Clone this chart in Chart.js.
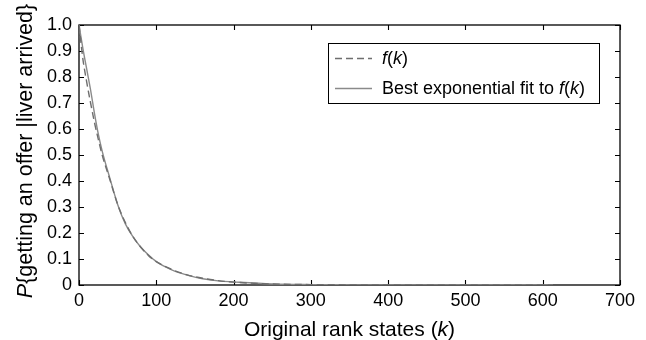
<!DOCTYPE html>
<html>
<head>
<meta charset="utf-8">
<script src="https://cdn.jsdelivr.net/npm/chart.js@4.4.1/dist/chart.umd.min.js"></script>
<style>
    html, body { margin: 0; padding: 0; background: #fff; }
    #wrap { width: 646px; height: 340px; position: relative; }
</style>
</head>
<body>
<div id="wrap"><canvas id="chart" width="646" height="340"></canvas></div>
<script>
/* data */
const kPoints = [0, 5, 10, 15, 20, 25, 30, 40, 50, 60, 70, 80, 90, 100, 120, 140, 160, 180, 200, 250, 300, 350, 400, 500, 613];
const fValues = [1.0, 0.87, 0.78, 0.70, 0.625, 0.56, 0.50, 0.405, 0.31, 0.24, 0.185, 0.145, 0.113, 0.09, 0.06, 0.039, 0.026, 0.017, 0.011, 0.004, 0.0015, 0.0006, 0.0002, 0.0, 0.0];
const fitValues = [1.0, 0.91, 0.83, 0.75, 0.66, 0.58, 0.515, 0.41, 0.31, 0.235, 0.185, 0.145, 0.115, 0.09, 0.058, 0.038, 0.024, 0.016, 0.012, 0.004, 0.0015, 0.0006, 0.0002, 0.00003, 0.0];
const xTicks = [0, 100, 200, 300, 400, 500, 600, 700];
const yTicks = [0, 0.1, 0.2, 0.3, 0.4, 0.5, 0.6, 0.7, 0.8, 0.9, 1.0];

const FONT = '"Liberation Sans", Arial, Helvetica, sans-serif';

// rich labels: [text, italic]
const xTitle = [['Original rank states (', false], ['k', true], [')', false]];
const yTitle = [['P', true], ['{getting an offer |liver arrived}', false]];
const legendRich = [
    [['f', true], ['(', false], ['k', true], [')', false]],
    [['Best exponential fit to ', false], ['f', true], ['(', false], ['k', true], [')', false]]
];

function toPoints(xs, ys) {
    return xs.map((x, i) => ({ x: x, y: ys[i] }));
}

function richWidth(ctx, parts, size) {
    let w = 0;
    for (const [t, it] of parts) {
        ctx.font = (it ? 'italic ' : '') + size + 'px ' + FONT;
        w += ctx.measureText(t).width;
    }
    return w;
}

function drawRich(ctx, parts, x, y, size) {
    let cx = x;
    for (const [t, it] of parts) {
        ctx.font = (it ? 'italic ' : '') + size + 'px ' + FONT;
        ctx.fillText(t, cx, y);
        cx += ctx.measureText(t).width;
    }
}

/* frame, inward ticks on four sides, axis titles */
const framePlugin = {
    id: 'frame',
    beforeDatasetsDraw(chart) {
        const { ctx, chartArea: a, scales } = chart;
        const tl = 5;
        ctx.save();
        ctx.strokeStyle = '#000';
        ctx.lineWidth = 1.3;
        ctx.strokeRect(a.left, a.top, a.right - a.left, a.bottom - a.top);
        ctx.lineWidth = 1.1;
        ctx.beginPath();
        for (const v of xTicks) {
            const px = Math.round(scales.x.getPixelForValue(v)) + 0.5;
            ctx.moveTo(px, a.bottom); ctx.lineTo(px, a.bottom - tl);
            ctx.moveTo(px, a.top); ctx.lineTo(px, a.top + tl);
        }
        for (const v of yTicks) {
            const py = Math.round(scales.y.getPixelForValue(v)) + 0.5;
            ctx.moveTo(a.left, py); ctx.lineTo(a.left + tl, py);
            ctx.moveTo(a.right, py); ctx.lineTo(a.right - tl, py);
        }
        ctx.stroke();
        ctx.restore();
    },
    afterDraw(chart) {
        const { ctx, chartArea: a } = chart;
        ctx.save();
        ctx.fillStyle = '#000';
        ctx.textBaseline = 'alphabetic';

        // x title
        const xs = 21;
        const xw = richWidth(ctx, xTitle, xs);
        drawRich(ctx, xTitle, (a.left + a.right) / 2 - xw / 2, 336, xs);

        // y title
        const ys = 21.5;
        const yw = richWidth(ctx, yTitle, ys);
        ctx.translate(32, 151);
        ctx.rotate(-Math.PI / 2);
        drawRich(ctx, yTitle, -yw / 2, 0, ys);
        ctx.restore();

        // legend
        ctx.save();
        const bx = 328, by = 43, bw = 271, bh = 60;
        ctx.fillStyle = '#fff';
        ctx.fillRect(bx, by, bw, bh);
        ctx.strokeStyle = '#000';
        ctx.lineWidth = 1;
        ctx.strokeRect(bx + 0.5, by + 0.5, bw, bh);
        chart.data.datasets.forEach((ds, i) => {
            const ly = by + 15 + i * 30;
            ctx.strokeStyle = ds.borderColor;
            ctx.lineWidth = ds.borderWidth;
            ctx.setLineDash(ds.borderDash || []);
            ctx.beginPath();
            ctx.moveTo(335, ly + 0.5);
            ctx.lineTo(372, ly + 0.5);
            ctx.stroke();
            ctx.setLineDash([]);
            ctx.fillStyle = '#000';
            ctx.textBaseline = 'middle';
            drawRich(ctx, legendRich[i], 382, ly + 1, 18);
        });
        ctx.restore();
    }
};

const chart = new Chart(document.getElementById('chart'), {
    type: 'line',
    data: {
        datasets: [{
            label: 'f(k)',
            data: toPoints(kPoints, fValues),
            borderColor: '#6e6e6e',
            borderWidth: 1.4,
            borderDash: [7, 4],
            pointRadius: 0,
            cubicInterpolationMode: 'monotone',
            fill: false
        }, {
            label: 'Best exponential fit to f(k)',
            data: toPoints(kPoints, fitValues),
            borderColor: '#8a8a8a',
            borderWidth: 1.4,
            pointRadius: 0,
            cubicInterpolationMode: 'monotone',
            fill: false
        }]
    },
    options: {
        responsive: false,
        animation: false,
        layout: { padding: { left: 0, right: 26, top: 25, bottom: 0 } },
        plugins: {
            legend: { display: false },
            tooltip: { enabled: false }
        },
        scales: {
            x: {
                type: 'linear',
                min: 0,
                max: 700,
                afterBuildTicks(scale) { scale.ticks = xTicks.map(v => ({ value: v })); },
                afterFit(scale) { scale.height = 55; },
                grid: { display: false, drawTicks: false },
                border: { display: false },
                ticks: {
                    padding: 5,
                    color: '#000',
                    font: { family: FONT, size: 18 },
                    maxRotation: 0,
                    callback: v => String(v)
                }
            },
            y: {
                min: 0,
                max: 1,
                afterBuildTicks(scale) { scale.ticks = yTicks.map(v => ({ value: v })); },
                afterFit(scale) { scale.width = 79; },
                grid: { display: false, drawTicks: false },
                border: { display: false },
                ticks: {
                    padding: 7,
                    color: '#000',
                    font: { family: FONT, size: 18 },
                    callback: v => (v === 0 ? '0' : v.toFixed(1))
                }
            }
        }
    },
    plugins: [framePlugin]
});
</script>
</body>
</html>
